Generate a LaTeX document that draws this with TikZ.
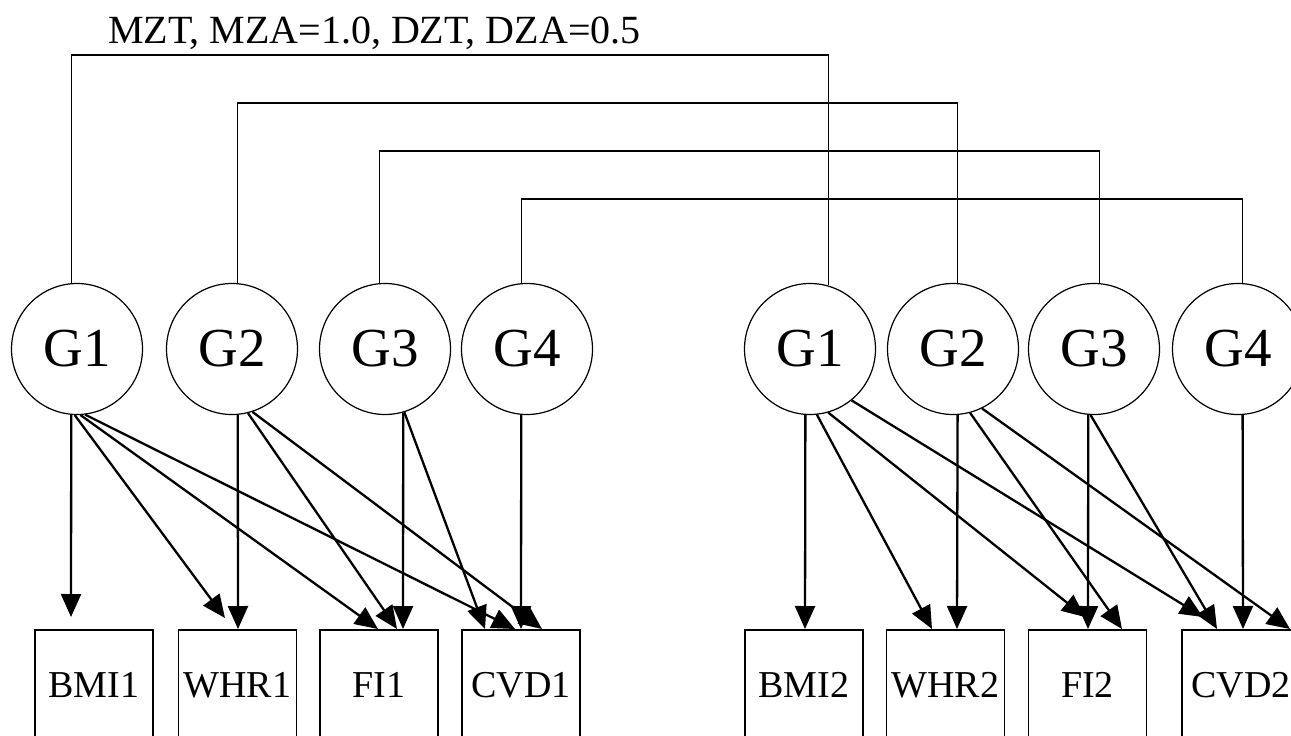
\documentclass[tikz,border=0pt]{standalone}
\usepackage{fontspec}
\setmainfont{Liberation Serif}
\usetikzlibrary{arrows.meta,calc}
\begin{document}
\begin{tikzpicture}[x=1pt,y=-1pt,
  gnode/.style={circle,draw,line width=1.2pt,minimum size=131pt,inner sep=0pt,font=\fontsize{55}{60}\selectfont},
  vbox/.style={rectangle,draw,line width=1.2pt,minimum width=118pt,minimum height=110pt,inner sep=0pt,font=\fontsize{38}{44}\selectfont},
  link/.style={line width=1.2pt},
  arr/.style={line width=2.3pt,-{Triangle[length=23pt,width=20pt]}},
]
\useasboundingbox (0,0) rectangle (1291,736);
\fill[white] (0,0) rectangle (1291,736);
\clip (0,0) rectangle (1291,736);

% title
\node[anchor=base west,inner sep=0pt,font=\fontsize{40}{46}\selectfont] (title) at (108,43) {MZT, MZA=1.0, DZT, DZA=0.5};

% latent factors
\node[gnode] (G1L) at (77,349) {G1};
\node[gnode] (G2L) at (232,349) {G2};
\node[gnode] (G3L) at (385,349) {G3};
\node[gnode] (G4L) at (527,349) {G4};
\node[gnode] (G1R) at (810,349) {G1};
\node[gnode] (G2R) at (953,349) {G2};
\node[gnode] (G3R) at (1094,349) {G3};
\node[gnode] (G4R) at (1238,349) {G4};

% observed variables
\node[vbox] (BMI1) at (94,685) {BMI1};
\node[vbox] (WHR1) at (237.5,685) {WHR1};
\node[vbox] (FI1) at (379,685) {FI1};
\node[vbox] (CVD1) at (521,685) {CVD1};
\node[vbox] (BMI2) at (804,685) {BMI2};
\node[vbox] (WHR2) at (945.5,685) {WHR2};
\node[vbox] (FI2) at (1087.5,685) {FI2};
\node[vbox] (CVD2) at (1241,685) {CVD2};

% bracket levels
\coordinate (b1) at (0,55);
\coordinate (b2) at (0,103);
\coordinate (b3) at (0,151);
\coordinate (b4) at (0,199);

\draw[link] (G1L.95) |- (b1 -| G1R.74) -- (G1R.74);
\draw[link] (G2L.85) |- (b2 -| G2R.86) -- (G2R.86);
\draw[link] (G3L.95) |- (b3 -| G3R.85) -- (G3R.85);
\draw[link] (G4L.95) |- (b4 -| G4R.86) -- (G4R.86);

% arrow tips
\coordinate (tB1) at (71,617);
\coordinate (tW1a) at (225,618);
\coordinate (tW1b) at (238,629);
\coordinate (tF1a) at (378,629);
\coordinate (tF1b) at (397,629);
\coordinate (tF1c) at (403,629);
\coordinate (tC1a) at (485,629);
\coordinate (tC1b) at (515,629);
\coordinate (tC1c) at (521,629);
\coordinate (tC1d) at (542,629);

\coordinate (tB2) at (805,629);
\coordinate (tW2a) at (932,629);
\coordinate (tW2b) at (957,629);
\coordinate (tF2a) at (1085,617);
\coordinate (tF2b) at (1088,629);
\coordinate (tF2c) at (1122,629);
\coordinate (tC2a) at (1203,617);
\coordinate (tC2b) at (1217,629);
\coordinate (tC2c) at (1243,629);
\coordinate (tC2d) at (1290,629);

% left group
\draw[arr] (G1L.265) -- (tB1);
\draw[arr] (G1L.268) -- (tW1a);
\draw[arr] (G1L.273) -- (tF1a);
\draw[arr] (G1L.277) -- (tC1b);
\draw[arr] (G2L.275) -- (tW1b);
\draw[arr] (G2L.284) -- (tF1b);
\draw[arr] (G2L.288) -- (tC1d);
\draw[arr] (G3L.286) -- (tF1c);
\draw[arr] (G3L.287) -- (tC1a);
\draw[arr] (G4L.265) -- (tC1c);

% right group
\draw[arr] (G1R.266) -- (tB2);
\draw[arr] (G1R.276) -- (tW2a);
\draw[arr] (G1R.286) -- (tF2a);
\draw[arr] (G1R.309) -- (tC2a);
\draw[arr] (G2R.274) -- (tW2b);
\draw[arr] (G2R.285) -- (tF2c);
\draw[arr] (G2R.296) -- (tC2d);
\draw[arr] (G3R.265) -- (tF2b);
\draw[arr] (G3R.267) -- (tC2b);
\draw[arr] (G4R.274) -- (tC2c);
\end{tikzpicture}
\end{document}
